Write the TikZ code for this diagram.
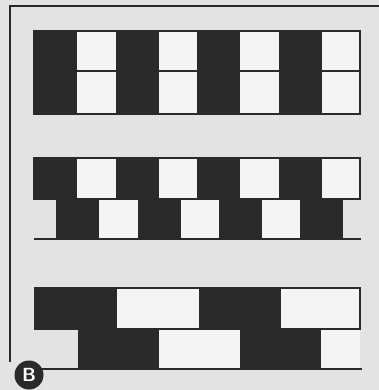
\documentclass[tikz,border=0pt]{standalone}
\usetikzlibrary{positioning}
\definecolor{paper}{HTML}{E3E3E3}
\definecolor{ink}{HTML}{2A2A2A}
\definecolor{tile}{HTML}{F4F4F4}

\begin{document}
\begin{tikzpicture}[x=1pt,y=-1pt,line width=1.5pt]
  \useasboundingbox (0,0) rectangle (379,390);
  \fill[paper] (0,0) rectangle (379,390);
  % frame
  \draw[ink,line width=2.6pt] (379,6) -- (10,6) -- (10,362);
  % pattern 1: stacked
  \fill[tile] (34,31) rectangle (360,114);
  \draw[ink] (34,71) -- (360,71);
  \foreach \a in {34,115.7,197.4,279.1}
    \fill[ink] (\a,31) rectangle ++(42.8,83);
  \draw[ink] (34,31) rectangle (360,114);
  % pattern 2: half offset
  \fill[tile] (34,158) rectangle (360,199);
  \fill[tile] (56,199) rectangle (343,239);
  \foreach \a in {34,115.7,197.4,279.1}
    \fill[ink] (\a,158) rectangle ++(42.8,41);
  \foreach \a in {56,137.7,219.4,300.1}
    \fill[ink] (\a,199) rectangle ++(42.8,40);
  \draw[ink] (34,158) rectangle (360,199);
  \draw[ink,line width=2pt] (34,239) -- (361,239);
  % pattern 3: running bond
  \fill[tile] (35,288) rectangle (360,329);
  \fill[tile] (78,329) rectangle (360,369);
  \foreach \a in {35,199}
    \fill[ink] (\a,288) rectangle ++(82,41);
  \foreach \a in {78,240}
    \fill[ink] (\a,329) rectangle ++(81,40);
  \draw[ink] (35,288) rectangle (360,329);
  \draw[ink,line width=2pt] (35,369) -- (362,369);
  % label
  \node[circle,fill=ink,text=white,minimum size=29pt,inner sep=0pt,
        font=\sffamily\bfseries\fontsize{19}{19}\selectfont] (lbl) at (29,375) {B};
\end{tikzpicture}
\end{document}
